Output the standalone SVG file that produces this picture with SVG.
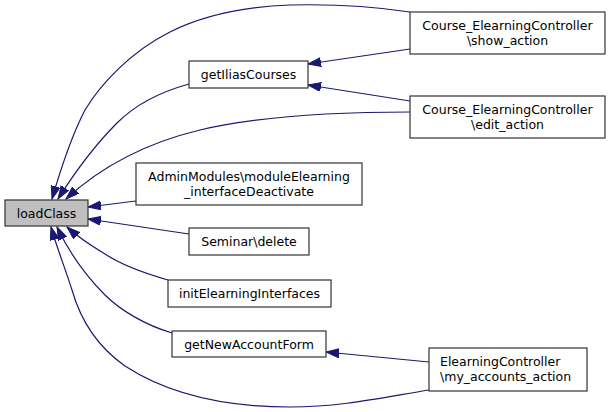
<svg xmlns="http://www.w3.org/2000/svg" width="611" height="412" viewBox="0 0 611 412">
<style>
.box{fill:#ffffff;stroke:#333333;stroke-width:1.2}
.cur{fill:#bfbfbf;stroke:#333333;stroke-width:1.2}
text{font-family:"DejaVu Sans",sans-serif;font-size:12.5px;fill:#000000;text-anchor:middle}
.edge{fill:none;stroke:#191970;stroke-width:1.2;marker-end:url(#arr)}
</style>
<defs>
<marker id="arr" markerUnits="userSpaceOnUse" markerWidth="14" markerHeight="10" refX="13" refY="4.5" orient="auto" viewBox="0 0 14 10">
<path d="M0,0 L13,4.5 L0,9 z" fill="#191970" stroke="#191970" stroke-width="1"/>
</marker>
</defs>
<rect width="611" height="412" fill="#ffffff"/>
<g id="connectors">
<path class="edge" d="M410,12 C370,6 330,4 290,5 C240,7 200,17 170,32 C130,52 100,85 85,110 C72,135 61,168 52,199"/>
<path class="edge" d="M189,84 C160,92 135,105 117,123 C95,145 75,172 58,199"/>
<path class="edge" d="M410,112 C340,112 260,116 200,130 C150,142 105,163 66,199"/>
<path class="edge" d="M410,49 L308,64"/>
<path class="edge" d="M410,101 L308,85"/>
<path class="edge" d="M136,201 L88,207"/>
<path class="edge" d="M189,234 L88,219"/>
<path class="edge" d="M168,280 C140,272 120,264 105,254 C90,245 77,236 67,227"/>
<path class="edge" d="M172,333 C145,325 120,310 105,295 C85,275 68,250 57,227"/>
<path class="edge" d="M429,390 C380,398 340,407 290,407 C220,407 165,392 125,366 C95,345 80,318 72,290 C65,268 57,248 51,227"/>
<path class="edge" d="M429,362 L326,352"/>
</g>
<g id="loadClass">
<rect class="cur" x="5" y="200" width="83" height="26"/>
<text x="46.5" y="217.5">loadClass</text>
</g>
<g id="getIliasCourses">
<rect class="box" x="189" y="61" width="119" height="27"/>
<text x="248.5" y="79">getIliasCourses</text>
</g>
<g id="show_action">
<rect class="box" x="410" y="12" width="195" height="42"/>
<text x="507.5" y="29.5">Course_ElearningController</text>
<text x="507.5" y="44.5">\show_action</text>
</g>
<g id="edit_action">
<rect class="box" x="410" y="96" width="195" height="42"/>
<text x="507.5" y="113.5">Course_ElearningController</text>
<text x="507.5" y="128.5">\edit_action</text>
</g>
<g id="moduleElearning">
<rect class="box" x="136" y="163" width="226" height="42"/>
<text x="249" y="180.5">AdminModules\moduleElearning</text>
<text x="249" y="195.5">_interfaceDeactivate</text>
</g>
<g id="seminarDelete">
<rect class="box" x="189" y="228" width="120" height="27"/>
<text x="249" y="246">Seminar\delete</text>
</g>
<g id="initElearningInterfaces">
<rect class="box" x="168" y="280" width="163" height="27"/>
<text x="249.5" y="298">initElearningInterfaces</text>
</g>
<g id="getNewAccountForm">
<rect class="box" x="172" y="331" width="154" height="26"/>
<text x="249" y="348.5">getNewAccountForm</text>
</g>
<g id="my_accounts_action">
<rect class="box" x="429" y="348" width="158" height="43"/>
<text x="440" y="366" style="text-anchor:start">ElearningController</text>
<text x="440" y="381" style="text-anchor:start">\my_accounts_action</text>
</g>
</svg>
